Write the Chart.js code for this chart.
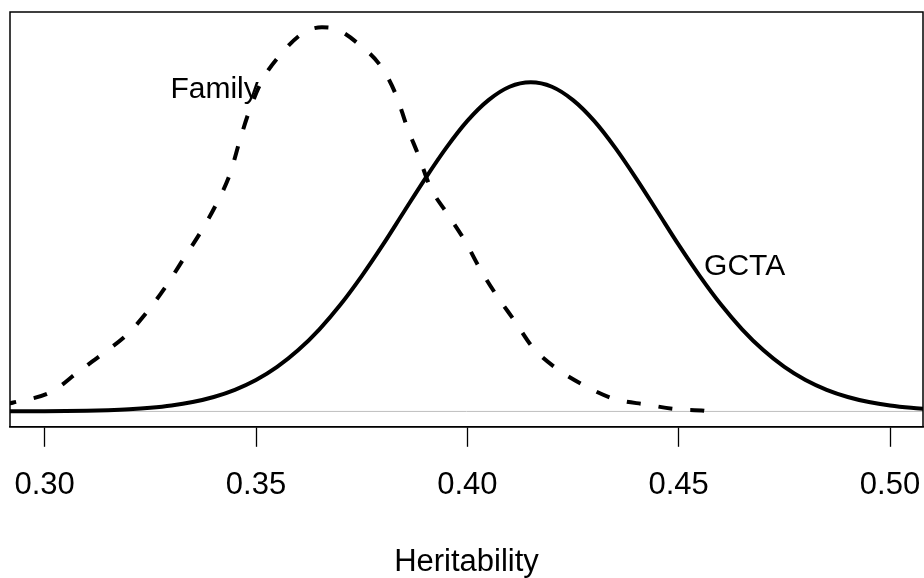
<!DOCTYPE html>
<html>
<head>
<meta charset="utf-8">
<script src="https://cdn.jsdelivr.net/npm/chart.js@4"></script>
<style>
  html, body { margin: 0; padding: 0; background: #fff; }
  #wrap { width: 924px; height: 578px; }
</style>
</head>
<body>
<div id="wrap"><canvas id="densityChart"></canvas></div>
<script>
// x range of the plot and tick labels
const xMin = 0.2918;
const xMax = 0.5078;
const xTicks = [0.30, 0.35, 0.40, 0.45, 0.50];

// GCTA density (solid)
const gctaX = [0.290, 0.295, 0.300, 0.305, 0.310, 0.315, 0.320, 0.325, 0.330, 0.335,
               0.340, 0.345, 0.350, 0.355, 0.360, 0.365, 0.370, 0.375, 0.380, 0.385,
               0.390, 0.395, 0.400, 0.405, 0.410, 0.415, 0.420, 0.425, 0.430, 0.435,
               0.440, 0.445, 0.450, 0.455, 0.460, 0.465, 0.470, 0.475, 0.480, 0.485,
               0.490, 0.495, 0.500, 0.505, 0.510];
const gctaY = [0.002, 0.005, 0.009, 0.016, 0.029, 0.051, 0.088, 0.148, 0.240, 0.380,
               0.584, 0.874, 1.27, 1.80, 2.48, 3.32, 4.32, 5.47, 6.73, 8.07,
               9.40, 10.65, 11.74, 12.58, 13.12, 13.30, 13.12, 12.58, 11.74, 10.65,
               9.40, 8.07, 6.73, 5.47, 4.32, 3.32, 2.48, 1.80, 1.27, 0.874,
               0.584, 0.380, 0.240, 0.148, 0.088];

// Family density (dashed)
const familyX = [0.2900, 0.2926, 0.3017, 0.3080, 0.3139, 0.3198, 0.3246, 0.3289, 0.3332, 0.3372,
                 0.3407, 0.3439, 0.3462, 0.3484, 0.3514, 0.3557, 0.3612, 0.3656, 0.3683, 0.3746,
                 0.3799, 0.3833, 0.3857, 0.3885, 0.3912, 0.3953, 0.3994, 0.4030, 0.4070, 0.4113,
                 0.4156, 0.4213, 0.4271, 0.4347, 0.4423, 0.4495, 0.4562, 0.4567];
const familyY = [0.27, 0.36, 0.80, 1.61, 2.35, 3.16, 4.10, 5.11, 6.26, 7.33,
                 8.41, 9.62, 10.97, 12.14, 13.36, 14.40, 15.30, 15.52, 15.48, 14.80,
                 13.86, 12.72, 11.51, 10.32, 9.08, 7.98, 6.90, 5.76, 4.67, 3.63,
                 2.56, 1.71, 1.10, 0.51, 0.28, 0.09, 0.02, 0.00];

const yMax = 15.52;

const toPoints = (xs, ys) => xs.map((x, i) => ({ x: x, y: ys[i] }));

const FONT = 'Arial, "Liberation Sans", Helvetica, sans-serif';

// frame box, grey zero line and curve labels
const extras = {
    id: 'extras',
    beforeDatasetsDraw(chart) {
        const { ctx, chartArea: a, scales } = chart;
        const y0 = scales.y.getPixelForValue(0);
        ctx.save();
        ctx.strokeStyle = '#bebebe';
        ctx.lineWidth = 1;
        ctx.beginPath();
        ctx.moveTo(a.left, y0);
        ctx.lineTo(a.right, y0);
        ctx.stroke();
        ctx.restore();
    },
    afterDraw(chart) {
        const { ctx, chartArea: a, scales } = chart;
        ctx.save();
        ctx.strokeStyle = '#000';
        ctx.lineWidth = 1.5;
        ctx.strokeRect(a.left, a.top, a.right - a.left, a.bottom - a.top);
        ctx.fillStyle = '#000';
        ctx.font = '30px ' + FONT;
        ctx.textAlign = 'center';
        ctx.textBaseline = 'alphabetic';
        ctx.fillText('Family', scales.x.getPixelForValue(0.3402), scales.y.getPixelForValue(12.66));
        ctx.fillText('GCTA', scales.x.getPixelForValue(0.4656), scales.y.getPixelForValue(5.52));
        ctx.restore();
    }
};

new Chart(document.getElementById('densityChart'), {
    type: 'line',
    data: {
        datasets: [{
            label: 'Family',
            data: toPoints(familyX, familyY),
            borderColor: '#000',
            borderWidth: 4,
            borderDash: [14, 18],
            cubicInterpolationMode: 'monotone',
            pointRadius: 0,
            fill: false
        }, {
            label: 'GCTA',
            data: toPoints(gctaX, gctaY),
            borderColor: '#000',
            borderWidth: 4,
            cubicInterpolationMode: 'monotone',
            pointRadius: 0,
            fill: false
        }]
    },
    options: {
        responsive: true,
        maintainAspectRatio: false,
        animation: false,
        layout: { padding: { left: 10, right: 1, top: 12, bottom: 0 } },
        plugins: {
            legend: { display: false },
            tooltip: { enabled: false }
        },
        scales: {
            x: {
                type: 'linear',
                min: xMin,
                max: xMax,
                afterBuildTicks: (scale) => { scale.ticks = xTicks.map(v => ({ value: v })); },
                afterFit: (scale) => { scale.paddingLeft = 0; scale.paddingRight = 0; },
                grid: {
                    drawOnChartArea: false,
                    drawTicks: true,
                    tickLength: 20,
                    tickColor: '#000',
                    tickWidth: 1.3
                },
                border: { display: true, color: '#000', width: 1.5 },
                ticks: {
                    color: '#000',
                    padding: 20,
                    maxRotation: 0,
                    autoSkip: false,
                    font: { family: FONT, size: 31 },
                    callback: (v) => Number(v).toFixed(2)
                },
                title: {
                    display: true,
                    text: 'Heritability',
                    color: '#000',
                    font: { family: FONT, size: 31, lineHeight: 1 },
                    padding: { top: 23, bottom: 0 }
                }
            },
            y: {
                display: false,
                min: -0.04 * yMax,
                max: 1.04 * yMax
            }
        }
    },
    plugins: [extras]
});
</script>
</body>
</html>
